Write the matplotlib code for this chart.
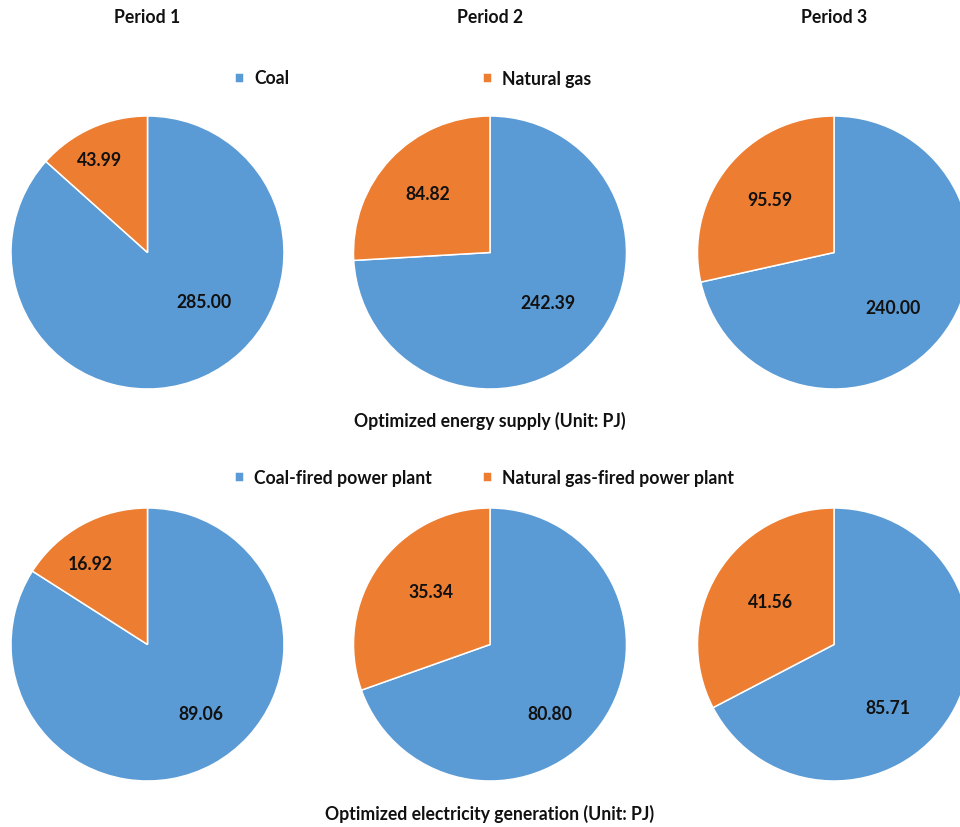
import matplotlib
matplotlib.use("Agg")
import matplotlib.pyplot as plt

plt.rcParams['font.family'] = ['Lato', 'DejaVu Sans']
plt.rcParams['font.weight'] = 'bold'

# data
periods = ["Period 1", "Period 2", "Period 3"]
supply_labels = ["Coal", "Natural gas"]
supply_coal = [285.00, 242.39, 240.00]
supply_gas = [43.99, 84.82, 95.59]
gen_labels = ["Coal-fired power plant", "Natural gas-fired power plant"]
gen_coal = [89.06, 80.80, 85.71]
gen_gas = [16.92, 35.34, 41.56]
captions = ["Optimized energy supply (Unit: PJ)",
            "Optimized electricity generation (Unit: PJ)"]

# layout (pixel units, y measured from top)
W, H = 960, 827
pie_cx = [147.5, 490, 834]
row_cy = [252.5, 644.5]
radius = 136.5
# label offsets from pie centre: [coal, gas] per pie
lab_off = [
    [[(56.5, 49.5), (-48, -91.5)], [(58, 51), (-62, -58)], [(59, 55.5), (-64, -52.5)]],
    [[(53, 69.5), (-57, -80.5)], [(60, 69.5), (-59, -52.5)], [(54, 64.5), (-63, -41.5)]],
]
legend_y = [79, 478]
legend_x = [235, 483]
caption_y = [421, 814]

blue = "#5B9BD5"
orange = "#ED7D31"
txt = "#111111"
fs = 12.7


def fy(y):
    return H - y


fig = plt.figure(figsize=(W / 100, H / 100), dpi=100)
ax = fig.add_axes([0, 0, 1, 1])

rows = [(supply_coal, supply_gas, supply_labels), (gen_coal, gen_gas, gen_labels)]
for r, (coal, gas, labels) in enumerate(rows):
    wedges = None
    for i in range(3):
        cx, cy = pie_cx[i], row_cy[r]
        wedges, _ = ax.pie([coal[i], gas[i]], colors=[blue, orange], startangle=90,
                           counterclock=False, center=(cx, fy(cy)), radius=radius,
                           frame=True,
                           wedgeprops=dict(edgecolor="white", linewidth=1.1))
        for k, v in enumerate([coal[i], gas[i]]):
            dx, dy = lab_off[r][i][k]
            ax.text(cx + dx, fy(cy + dy), f"{v:.2f}", ha="center", va="center",
                    fontsize=fs, fontweight="bold", color=txt)
    for k in range(2):
        fig.legend(handles=[wedges[k]], labels=[labels[k]], loc="center left",
                   bbox_to_anchor=(legend_x[k] / W, 1 - legend_y[r] / H),
                   frameon=False, borderpad=0, borderaxespad=0,
                   handlelength=0.5, handleheight=0.5, handletextpad=0.6,
                   prop=dict(size=fs, weight="bold"), labelcolor=txt)
    ax.text(pie_cx[1], fy(caption_y[r]), captions[r], ha="center", va="center",
            fontsize=fs, fontweight="bold", color=txt)

for i in range(3):
    ax.text(pie_cx[i], fy(17.5), periods[i], ha="center", va="center",
            fontsize=fs, fontweight="bold", color=txt)

ax.set_xlim(0, W)
ax.set_ylim(0, H)
ax.set_aspect("auto")
ax.axis("off")

fig.savefig("out.png", dpi=100)
